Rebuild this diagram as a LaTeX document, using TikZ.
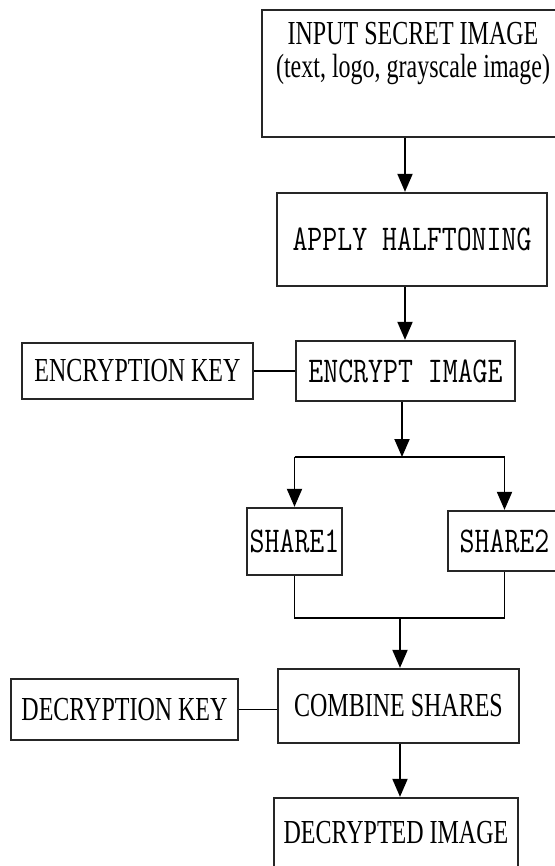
\documentclass[tikz,border=0pt]{standalone}
\usepackage{fontspec}
\setmainfont{Liberation Serif}
\usepackage{graphicx}
\usetikzlibrary{arrows.meta}
\newcommand{\stretched}[1]{\scalebox{1}[1.4]{#1}}
\newcommand{\stretchedtt}[1]{\scalebox{1}[1.25]{#1}}

\begin{document}
\begin{tikzpicture}[x=1pt, y=-1pt, line width=1.9pt, >={Triangle[width=15pt,length=18pt]}]
	\tikzstyle {Step} = [shape=rectangle, draw=black!85, line width=2.3pt, inner sep=0pt, font=\fontsize{24}{27}\selectfont]
	\tikzstyle {Mono} = [Step, font=\ttfamily\fontsize{29}{32}\selectfont]
	\tikzstyle {Label} = [inner sep=0pt, font=\fontsize{24}{27}\selectfont]
	\useasboundingbox (0,0) rectangle (554,866);

	% input image
	\node[Step, minimum width=303pt, minimum height=127pt] (Input) at (413.5,73.5) {};
	\node[Label, anchor=base] (Input-1) at (413,45) {\stretched{INPUT SECRET IMAGE}};
	\node[Label, anchor=base] (Input-2) at (413,78) {\stretched{(text, logo, grayscale image)}};

	% halftoning, encryption
	\node[Mono, minimum width=270pt, minimum height=93pt] (Halftone) at (412,239.5) {\stretchedtt{APPLY HALFTONING}};
	\node[Mono, minimum width=219pt, minimum height=60pt] (Encrypt) at (405.5,371) {\stretchedtt{ENCRYPT IMAGE}};
	\node[Step, minimum width=231pt, minimum height=56pt] (Key-enc) at (137.5,371) {\stretched{ENCRYPTION KEY}};

	% shares
	\node[Mono, minimum width=95pt, minimum height=67pt] (Share-1) at (294.5,541.5) {\stretchedtt{SHARE1}};
	\node[Mono, minimum width=113pt, minimum height=60pt] (Share-2) at (504.5,541) {\stretchedtt{SHARE2}};

	% decryption
	\node[Step, minimum width=241pt, minimum height=74pt] (Combine) at (398.5,706) {\stretched{COMBINE SHARES}};
	\node[Step, minimum width=227pt, minimum height=61pt] (Key-dec) at (124.5,709.5) {\stretched{DECRYPTION KEY}};
	\node[Step, minimum width=244pt, minimum height=69pt] (Output) at (396,832.5) {\stretched{DECRYPTED IMAGE}};

	\coordinate (Trunk) at (405,0);
	\coordinate (Split) at (402,457);
	\coordinate (Join) at (400,618);

	\draw[->] (Input.south -| Trunk) -- (Halftone.north -| Trunk);
	\draw[->] (Halftone.south -| Trunk) -- (Encrypt.north -| Trunk);
	\draw (Key-enc.east) -- (Encrypt.west);

	\draw[->] (Encrypt.south -| Split) -- (Split);
	\draw (Split -| Share-1.north) -- (Split -| Share-2.north);
	\draw[->] (Split -| Share-1.north) -- (Share-1.north);
	\draw[->] (Split -| Share-2.north) -- (Share-2.north);

	\draw (Share-1.south) |- (Join -| Share-2.south) -- (Share-2.south);
	\draw[->] (Join) -- (Combine.north -| Join);
	\draw (Key-dec.east) -- (Key-dec.east -| Combine.west);
	\draw[->] (Combine.south -| Join) -- (Output.north -| Join);
\end{tikzpicture}
\end{document}
